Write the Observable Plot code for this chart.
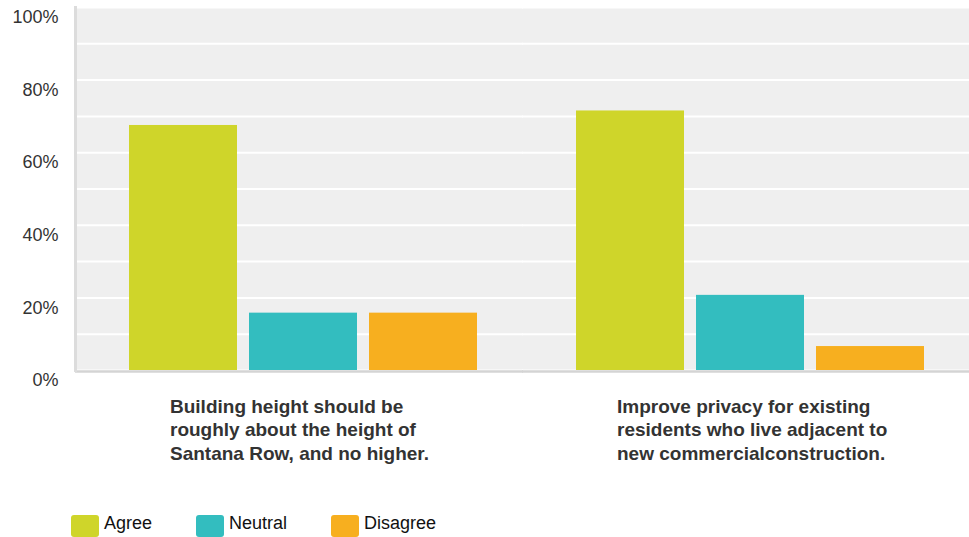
<!DOCTYPE html>
<html><head><meta charset="utf-8">
<script src="https://cdn.jsdelivr.net/npm/d3@7"></script>
<script src="https://cdn.jsdelivr.net/npm/@observablehq/plot@0.6"></script>
<style>
body{margin:0;background:#fff;font-family:"Liberation Sans",Arial,Helvetica,sans-serif;}
#legend{display:flex;align-items:center;padding-top:35px;padding-left:71px;}
.item{display:flex;align-items:center;margin-right:44px;}
.sw{width:28px;height:22px;border-radius:3px;margin-right:5px;}
.lb{font-size:18px;color:#111;position:relative;top:-3px;}
</style></head><body><div id="chart"></div><div id="legend"></div>
<script>
const groups = [
  "Building height should be\nroughly about the height of\nSantana Row, and no higher.",
  "Improve privacy for existing\nresidents who live adjacent to\nnew commercialconstruction."
];
const series = ["Agree", "Neutral", "Disagree"];
const agree = [67.5, 71.5];
const neutral = [15.8, 20.7];
const disagree = [15.8, 6.6];
const colors = ["#cfd52a", "#33bdbf", "#f7af1f"];
const yTicks = [0, 20, 40, 60, 80, 100];
const gridTicks = [0, 10, 20, 30, 40, 50, 60, 70, 80, 90, 100];

const values = {Agree: agree, Neutral: neutral, Disagree: disagree};
const data = groups.flatMap((g, i) => series.map(s => ({group: g, series: s, value: values[s][i]})));

const chart = Plot.plot({
  width: 969, height: 480,
  marginLeft: 75, marginRight: 0, marginTop: 7, marginBottom: 110,
  style: {fontFamily: '"Liberation Sans", Arial, Helvetica, sans-serif', background: "#fff"},
  fx: {domain: groups, paddingInner: 0, paddingOuter: 0, label: null},
  x: {domain: series, paddingInner: 0.1, paddingOuter: 0.4016, align: 0.546, axis: null},
  y: {domain: [0, 100], label: null},
  color: {domain: series, range: colors},
  marks: [
    Plot.frame({fill: "#efefef", insetRight: -1}),
    Plot.ruleY(gridTicks, {stroke: "#fff", strokeWidth: 2, insetRight: -1}),
    Plot.barY(data, {fx: "group", x: "series", y: "value", fill: "series"}),
    Plot.ruleY([0], {stroke: "#d4d4d4", strokeWidth: 2.5, dy: 1, insetRight: -1}),
    Plot.axisY(yTicks, {tickSize: 0, tickPadding: 17, tickFormat: d => d + "%", fontSize: 18, fill: "#333", dy: 10}),
    Plot.axisFx({anchor: "bottom", tickSize: 0, tickPadding: 25, fontSize: 19, fontWeight: "bold", fill: "#333", textAnchor: "start", dx: -129, lineHeight: 1.26, label: null}),
    Plot.frame({anchor: "left", facet: "super", stroke: "#dcdcdc", strokeWidth: 3})
  ]
});
document.getElementById("chart").appendChild(chart);

const legend = document.getElementById("legend");
series.forEach((s, i) => {
  const item = document.createElement("div");
  item.className = "item";
  const sw = document.createElement("div");
  sw.className = "sw";
  sw.style.background = colors[i];
  const lb = document.createElement("span");
  lb.className = "lb";
  lb.textContent = s;
  item.appendChild(sw);
  item.appendChild(lb);
  legend.appendChild(item);
});
</script>
</body></html>
